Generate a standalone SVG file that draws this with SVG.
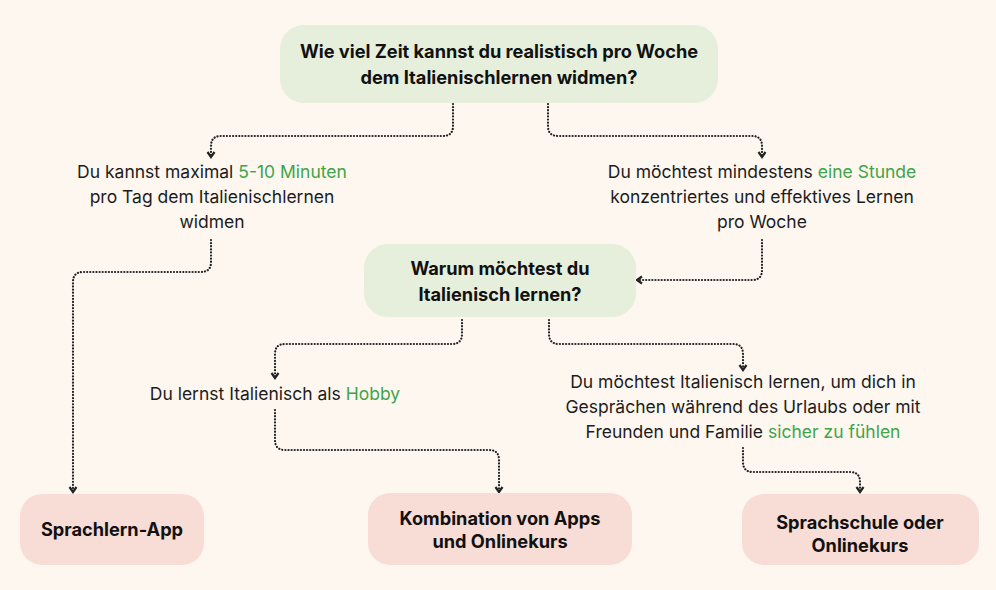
<svg xmlns="http://www.w3.org/2000/svg" width="996" height="590" viewBox="0 0 996 590">
<style>
.bg{fill:#FDF7F0}
.q{fill:#E6EEDC}
.r{fill:#F8DCD6}
.t{font-family:Inter,"Liberation Sans",sans-serif;font-size:17.5px;fill:#1c1c1c;text-anchor:middle}
.b{font-family:Inter,"Liberation Sans",sans-serif;font-size:18.2px;font-weight:700;fill:#111;text-anchor:middle}
.g{fill:#3FA44A}
.c{fill:none;stroke:#222;stroke-width:2.2;stroke-dasharray:0.1 3;stroke-linecap:round}
</style>
<defs>
<marker id="ah" viewBox="0 0 10 10" refX="8" refY="5" markerWidth="10" markerHeight="10" markerUnits="userSpaceOnUse" orient="auto">
<path d="M3,1.5 L8,5 L3,8.5" fill="none" stroke="#222" stroke-width="2.2"/>
</marker>
</defs>
<rect class="bg" x="0" y="0" width="996" height="590"/>
<g id="connectors">
<path class="c" d="M453,104 V126 Q453,136 443,136 H221 Q211,136 211,146 V157" marker-end="url(#ah)"/>
<path class="c" d="M548,104 V126 Q548,136 558,136 H752 Q762,136 762,146 V157" marker-end="url(#ah)"/>
<path class="c" d="M211,240 V262 Q211,272 201,272 H83 Q73,272 73,282 V492" marker-end="url(#ah)"/>
<path class="c" d="M762,240 V270 Q762,280 752,280 H637" marker-end="url(#ah)"/>
<path class="c" d="M462,320 V334 Q462,344 452,344 H285 Q275,344 275,354 V378" marker-end="url(#ah)"/>
<path class="c" d="M549,320 V334 Q549,344 559,344 H733 Q743,344 743,354 V370" marker-end="url(#ah)"/>
<path class="c" d="M275,410 V440 Q275,450 285,450 H489 Q499,450 499,460 V492" marker-end="url(#ah)"/>
<path class="c" d="M743,448 V462 Q743,472 753,472 H850 Q860,472 860,482 V492" marker-end="url(#ah)"/>
</g>
<g id="q1">
<rect class="q" x="280" y="25" width="438" height="78" rx="24"/>
<text class="b" x="499" y="58">Wie viel Zeit kannst du realistisch pro Woche</text>
<text class="b" x="499" y="84">dem Italienischlernen widmen?</text>
</g>
<g id="a1">
<text class="t" x="212" y="178">Du kannst maximal <tspan class="g">5-10 Minuten</tspan></text>
<text class="t" x="212" y="203">pro Tag dem Italienischlernen</text>
<text class="t" x="212" y="228">widmen</text>
</g>
<g id="a2">
<text class="t" x="762" y="178">Du möchtest mindestens <tspan class="g">eine Stunde</tspan></text>
<text class="t" x="762" y="203">konzentriertes und effektives Lernen</text>
<text class="t" x="762" y="228">pro Woche</text>
</g>
<g id="q2">
<rect class="q" x="364" y="244" width="272" height="73" rx="24"/>
<text class="b" x="500" y="275">Warum möchtest du</text>
<text class="b" x="500" y="301">Italienisch lernen?</text>
</g>
<g id="a3">
<text class="t" x="275" y="400">Du lernst Italienisch als <tspan class="g">Hobby</tspan></text>
</g>
<g id="a4">
<text class="t" x="743" y="388">Du möchtest Italienisch lernen, um dich in</text>
<text class="t" x="743" y="413">Gesprächen während des Urlaubs oder mit</text>
<text class="t" x="743" y="438">Freunden und Familie <tspan class="g">sicher zu fühlen</tspan></text>
</g>
<g id="r1">
<rect class="r" x="20" y="494" width="184" height="71" rx="22"/>
<text class="b" x="112" y="536">Sprachlern-App</text>
</g>
<g id="r2">
<rect class="r" x="368" y="493" width="264" height="72" rx="22"/>
<text class="b" x="500" y="525">Kombination von Apps</text>
<text class="b" x="500" y="548">und Onlinekurs</text>
</g>
<g id="r3">
<rect class="r" x="742" y="494" width="237" height="71" rx="22"/>
<text class="b" x="860" y="529">Sprachschule oder</text>
<text class="b" x="860" y="552">Onlinekurs</text>
</g>
</svg>
